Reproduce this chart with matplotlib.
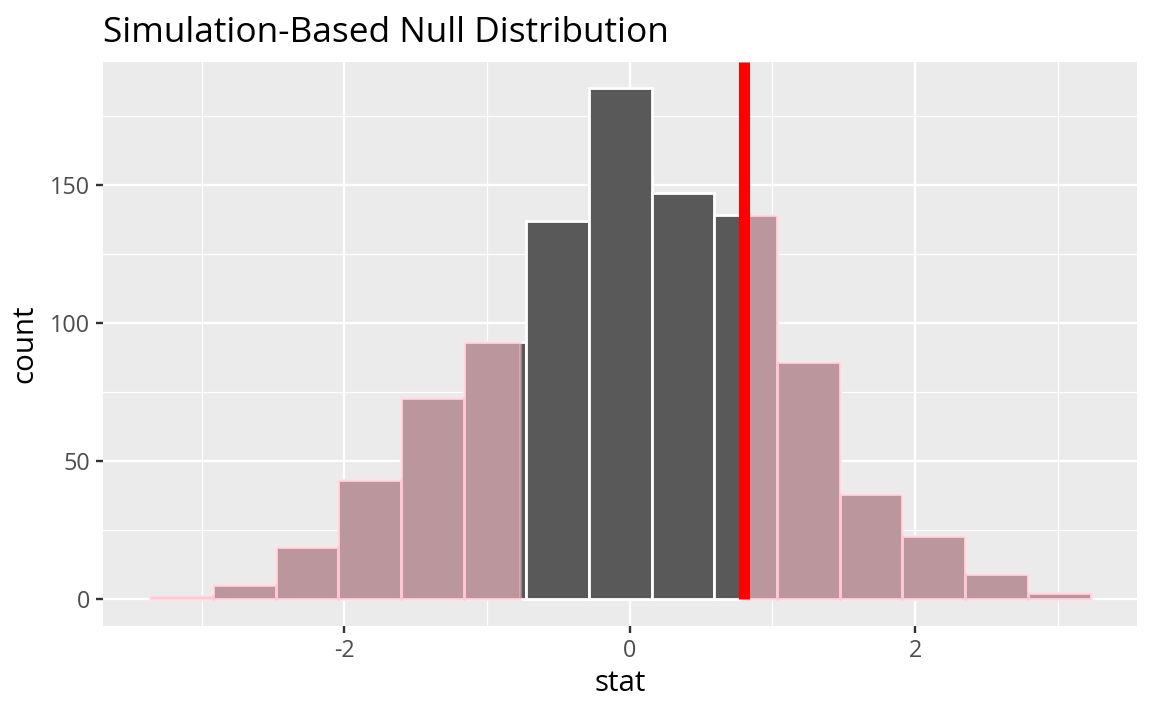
import numpy as np
import matplotlib.pyplot as plt

# histogram of simulated null statistics
bin_start = -3.36
bin_width = 0.4393
counts = [1, 5, 19, 43, 73, 93, 137, 185, 147, 139, 86, 38, 23, 9, 2]
obs_stat = 0.803
mirror_stat = -0.769

x_ticks = [-2, 0, 2]
y_ticks = [0, 50, 100, 150]

plt.rcParams['font.family'] = ['Open Sans', 'DejaVu Sans']
plt.rcParams['axes.unicode_minus'] = False

fig = plt.figure(figsize=(8, 711 / 144), dpi=144)
ax = fig.add_axes([103 / 1152, 1 - 626 / 711, (1137 - 103) / 1152, (626 - 62) / 711])
ax.set_facecolor('#EBEBEB')

xlim = (-3.691, 3.555)
ylim = (-9.78, 194.6)
ax.set_xlim(*xlim)
ax.set_ylim(*ylim)

# grid lines, ggplot style
ax.set_xticks(x_ticks)
ax.set_yticks(y_ticks)
ax.set_xticks([-3, -1, 1, 3], minor=True)
ax.set_yticks([25, 75, 125, 175], minor=True)
ax.grid(which='major', color='white', linewidth=1.2)
ax.grid(which='minor', color='white', linewidth=0.6)
ax.set_axisbelow(True)
for s in ax.spines.values():
    s.set_visible(False)

edges = bin_start + bin_width * np.arange(len(counts) + 1)
lefts = edges[:-1]
rights = edges[1:]

ax.bar(lefts, counts, width=bin_width, align='edge', color='#595959',
       edgecolor='white', linewidth=1.4, zorder=2)

# shaded tails (two-sided p-value region)
for lo, hi in [(xlim[0], mirror_stat), (obs_stat, xlim[1])]:
    l = np.clip(lefts, lo, hi)
    r = np.clip(rights, lo, hi)
    keep = r > l
    ax.bar(l[keep], np.array(counts)[keep], width=(r - l)[keep], align='edge',
           color=(1, 0.753, 0.796, 0.6), edgecolor=(1, 0.753, 0.796, 0.45),
           linewidth=1.4, zorder=3)

ax.vlines(obs_stat, 0, ylim[1], color='red', linewidth=5.5, zorder=4)

ax.tick_params(which='major', length=3.5, width=1.2, color='#333333',
               labelcolor='#4D4D4D', labelsize=11.7, pad=3)
ax.tick_params(which='minor', length=0)

ax.set_xlabel('stat', fontsize=14.7, labelpad=3)
ax.set_ylabel('count', fontsize=14.7, labelpad=5)
ax.set_title('Simulation-Based Null Distribution', loc='left', fontsize=17.6, pad=10)

fig.savefig('out.png', dpi=144)
